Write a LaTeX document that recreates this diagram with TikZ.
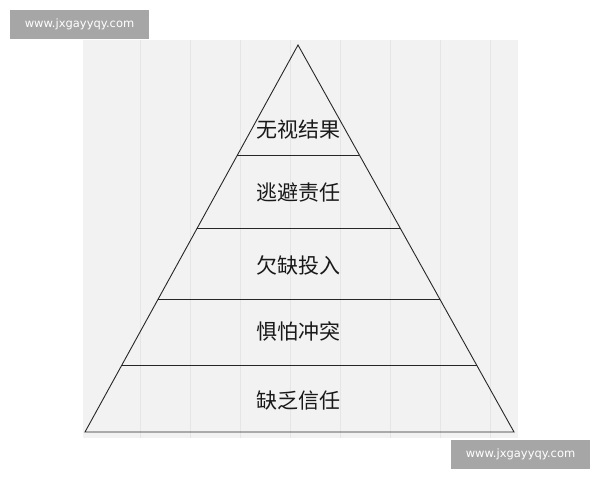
\documentclass[tikz,border=0pt]{standalone}
\usepackage{fontspec}
\newfontfamily\cjk{Noto Sans CJK SC}
\setmainfont{DejaVu Sans}
\begin{document}
\begin{tikzpicture}[x=1pt,y=-1pt,
  lbl/.style={font=\cjk\fontsize{21}{21}\selectfont, text=black!90},
  wm/.style={fill=black!35, text=white, font=\fontsize{11.5}{11.5}\selectfont, minimum width=139pt, minimum height=29pt, inner sep=0pt},
  tier/.style={draw=black!85, line width=0.9pt}]
\useasboundingbox (0,0) rectangle (600,480);
\fill[white] (0,0) rectangle (600,480);
\fill[black!5] (83,40) rectangle (518,438);
\foreach \x in {140,190,240,290,340,390,440,490}
  \draw[black!10, line width=0.6pt] (\x,40) -- (\x,438);
\coordinate (apex) at (298,45);
\coordinate (bl) at (85,432);
\coordinate (br) at (514,432);
\draw[tier] (apex) -- (bl) -- (br) -- cycle;
\foreach \y in {155,228,299,365} {
  \pgfmathsetmacro{\t}{(\y-45)/387}
  \draw[tier] ({298-213*\t},\y) -- ({298+216*\t},\y);
}
\node[lbl] (t1) at (298,130) {无视结果};
\node[lbl] (t2) at (298,192) {逃避责任};
\node[lbl] (t3) at (298,265) {欠缺投入};
\node[lbl] (t4) at (298,331) {惧怕冲突};
\node[lbl] (t5) at (298,401) {缺乏信任};
\node[wm] (w1) at (79.5,24.5) {www.jxgayyqy.com};
\node[wm] (w2) at (520.5,454.5) {www.jxgayyqy.com};
\end{tikzpicture}
\end{document}
